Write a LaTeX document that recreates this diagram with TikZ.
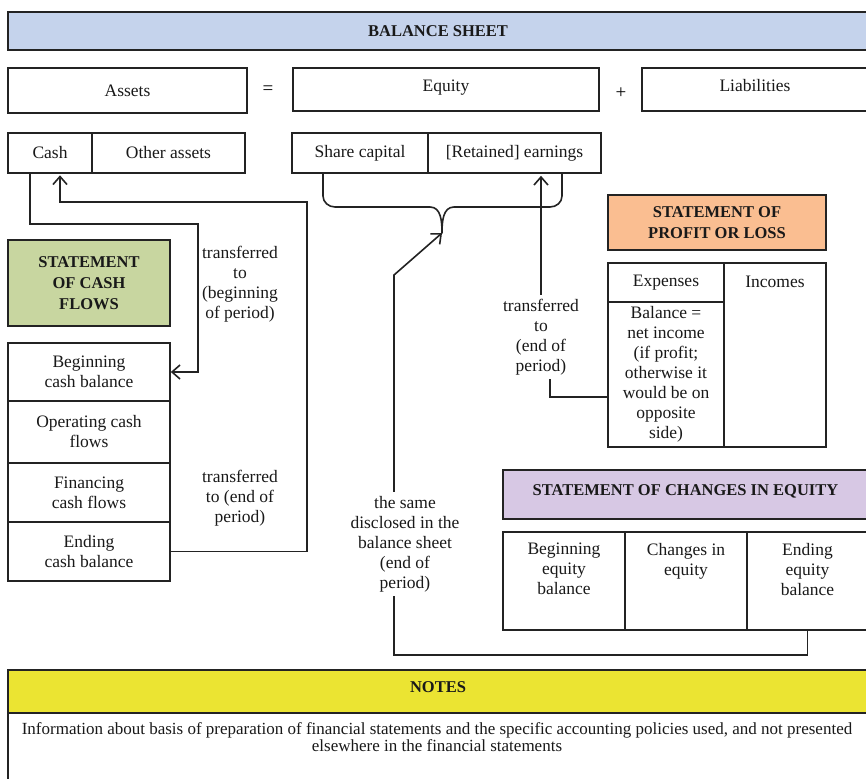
\documentclass[tikz,border=0pt]{standalone}
\usepackage{fontspec}
\setmainfont{Liberation Serif}
\usetikzlibrary{arrows.meta}

\definecolor{bsblue}{RGB}{197,211,236}
\definecolor{cfgreen}{RGB}{200,214,160}
\definecolor{plorange}{RGB}{250,190,145}
\definecolor{celilac}{RGB}{215,200,228}
\definecolor{ntyellow}{RGB}{235,228,50}
\definecolor{edge}{RGB}{35,35,35}

\newcommand\dgtext{\fontsize{17.5}{20}\selectfont}
\newcommand\dghead{\fontsize{16.5}{21}\selectfont\bfseries}
\newcommand\dgnote{\fontsize{17}{17.5}\selectfont}

\tikzset{
  cell/.style={draw=edge, line width=1.6pt, rectangle, inner sep=0pt,
    align=center, font=\dgtext, text=black!90},
  headbox/.style={cell, font=\dghead},
  lbl/.style={align=center, font=\dgtext, text=black!90, inner sep=4pt},
  conn/.style={draw=edge, line width=1.6pt},
  tip/.style={-{Straight Barb[length=8pt,width=14pt,line width=1.6pt]}},
}

\begin{document}
\begin{tikzpicture}[x=1pt,y=-1pt]
\useasboundingbox (0,0) rectangle (866,778);
\clip (0,0) rectangle (866,778);
\fill[white] (0,0) rectangle (866,778);

% balance sheet
\node[headbox, fill=bsblue, minimum width=860pt, minimum height=38pt] (bs) at (438,31) {BALANCE SHEET};
\node[cell, minimum width=239pt, minimum height=45pt] (assets) at (127.5,90.5) {Assets};
\node[font=\fontsize{19}{20}\selectfont] (eqsign) at (268,90) {=};
\node[cell, minimum width=306pt, minimum height=43pt, text depth=8pt] (equity) at (446,89.5) {Equity};
\node[font=\fontsize{19}{20}\selectfont] (plus) at (621,93) {+};
\node[cell, minimum width=226pt, minimum height=43pt, text depth=8pt] (liab) at (755,89.5) {Liabilities};

\node[cell, minimum width=84pt, minimum height=40pt] (cash) at (50,153) {Cash};
\node[cell, minimum width=153pt, minimum height=40pt] (other) at (168.5,153) {Other assets};
\node[cell, minimum width=136pt, minimum height=40pt] (share) at (360,153) {Share capital};
\node[cell, minimum width=173pt, minimum height=40pt] (earn) at (514.5,153) {[Retained] earnings};

% statement of cash flows
\node[headbox, fill=cfgreen, minimum width=162pt, minimum height=86pt] (cfhead) at (89,283) {STATEMENT\\OF CASH\\FLOWS};
\node[cell, minimum width=162pt, minimum height=58pt] (begin) at (89,372) {Beginning\\cash balance};
\node[cell, minimum width=162pt, minimum height=62pt] (oper) at (89,432) {Operating cash\\flows};
\node[cell, minimum width=162pt, minimum height=59pt] (fin) at (89,492.5) {Financing\\cash flows};
\node[cell, minimum width=162pt, minimum height=59pt] (ending) at (89,551.5) {Ending\\cash balance};

% statement of profit or loss
\node[headbox, fill=plorange, minimum width=218pt, minimum height=55pt] (plhead) at (717,222.5) {STATEMENT OF\\PROFIT OR LOSS};
\node[cell, minimum width=116pt, minimum height=39pt] (exp) at (666,282.5) {Expenses};
\node[cell, minimum width=116pt, minimum height=145pt] (bal) at (666,374.5) {Balance =\\net income\\(if profit;\\otherwise it\\would be on\\opposite\\side)};
\node[cell, minimum width=102pt, minimum height=184pt] (inc) at (775,355) {};
\node[lbl] (inctxt) at (775,282) {Incomes};

% statement of changes in equity
\node[headbox, fill=celilac, minimum width=365pt, minimum height=49pt, text depth=8pt] (cehead) at (685.5,494.5) {STATEMENT OF CHANGES IN EQUITY};
\node[cell, minimum width=122pt, minimum height=98pt] (begeq) at (564,581) {};
\node[cell, minimum width=122pt, minimum height=98pt] (chgeq) at (686,581) {};
\node[cell, minimum width=121pt, minimum height=98pt] (endeq) at (807.5,581) {};
\node[lbl, anchor=north] (begeqtxt) at (564,539) {Beginning\\equity\\balance};
\node[lbl, anchor=north] (chgeqtxt) at (686,539) {Changes in\\equity};
\node[lbl, anchor=north] (endeqtxt) at (807.5,539) {Ending\\equity\\balance};

% notes
\node[headbox, fill=ntyellow, minimum width=860pt, minimum height=43pt, text depth=8pt] (nthead) at (438,691.5) {NOTES};
\node[cell, minimum width=860pt, minimum height=77pt] (ntbody) at (438,751.5) {};
\node[align=center, font=\dgnote, text=black!90, anchor=north, inner sep=0pt] (nttxt) at (437,722)
  {Information about basis of preparation of financial statements and the specific accounting policies used, and not presented\\elsewhere in the financial statements};

% connector labels
\node[lbl] (lblbegin) at (240,284) {transferred\\to\\(beginning\\of period)};
\node[lbl] (lblend) at (240,498) {transferred\\to (end of\\period)};
\node[lbl] (lblsame) at (405,544) {the same\\disclosed in the\\balance sheet\\(end of\\period)};
\node[lbl] (lblre) at (541,337) {transferred\\to\\(end of\\period)};

% bend points of the connectors
\coordinate (kbeg) at (198,224);
\coordinate (kend) at (307,202);
\coordinate (kdiag) at (394,275);
\coordinate (kbot) at (394,655);
\coordinate (kre) at (550,397);
\coordinate (btip) at (442,233);

% brace under share capital and earnings
\draw[conn, line join=round]
  (323,173) -- (323,196) to[out=-90,in=180] (335,207) -- (430,207)
  to[out=0,in=90] (btip) to[out=90,in=180] (454,207) -- (550,207)
  to[out=0,in=-90] (562,196) -- (562,173);

% cash: into the statement of cash flows and back
\draw[conn, tip] ([xshift=-20pt]cash.south) |- (kbeg) |- (begin.east);
\draw[conn, tip, shorten >=1.5pt] (ending.east) -| (kend) -| ([xshift=10pt]cash.south);

% equity: from the statement of changes in equity
\draw[conn, tip] (kdiag |- lblsame.north) -- (kdiag) -- (btip);
\draw[conn] (kbot |- lblsame.south) -- (kbot) -| (endeq.south);

% earnings: from the statement of profit or loss
\draw[conn, tip, shorten >=2pt] (lblre.north) -- (lblre.north |- earn.south);
\draw[conn] (kre |- lblre.south) -- (kre) -- (kre -| bal.west);
\end{tikzpicture}
\end{document}
